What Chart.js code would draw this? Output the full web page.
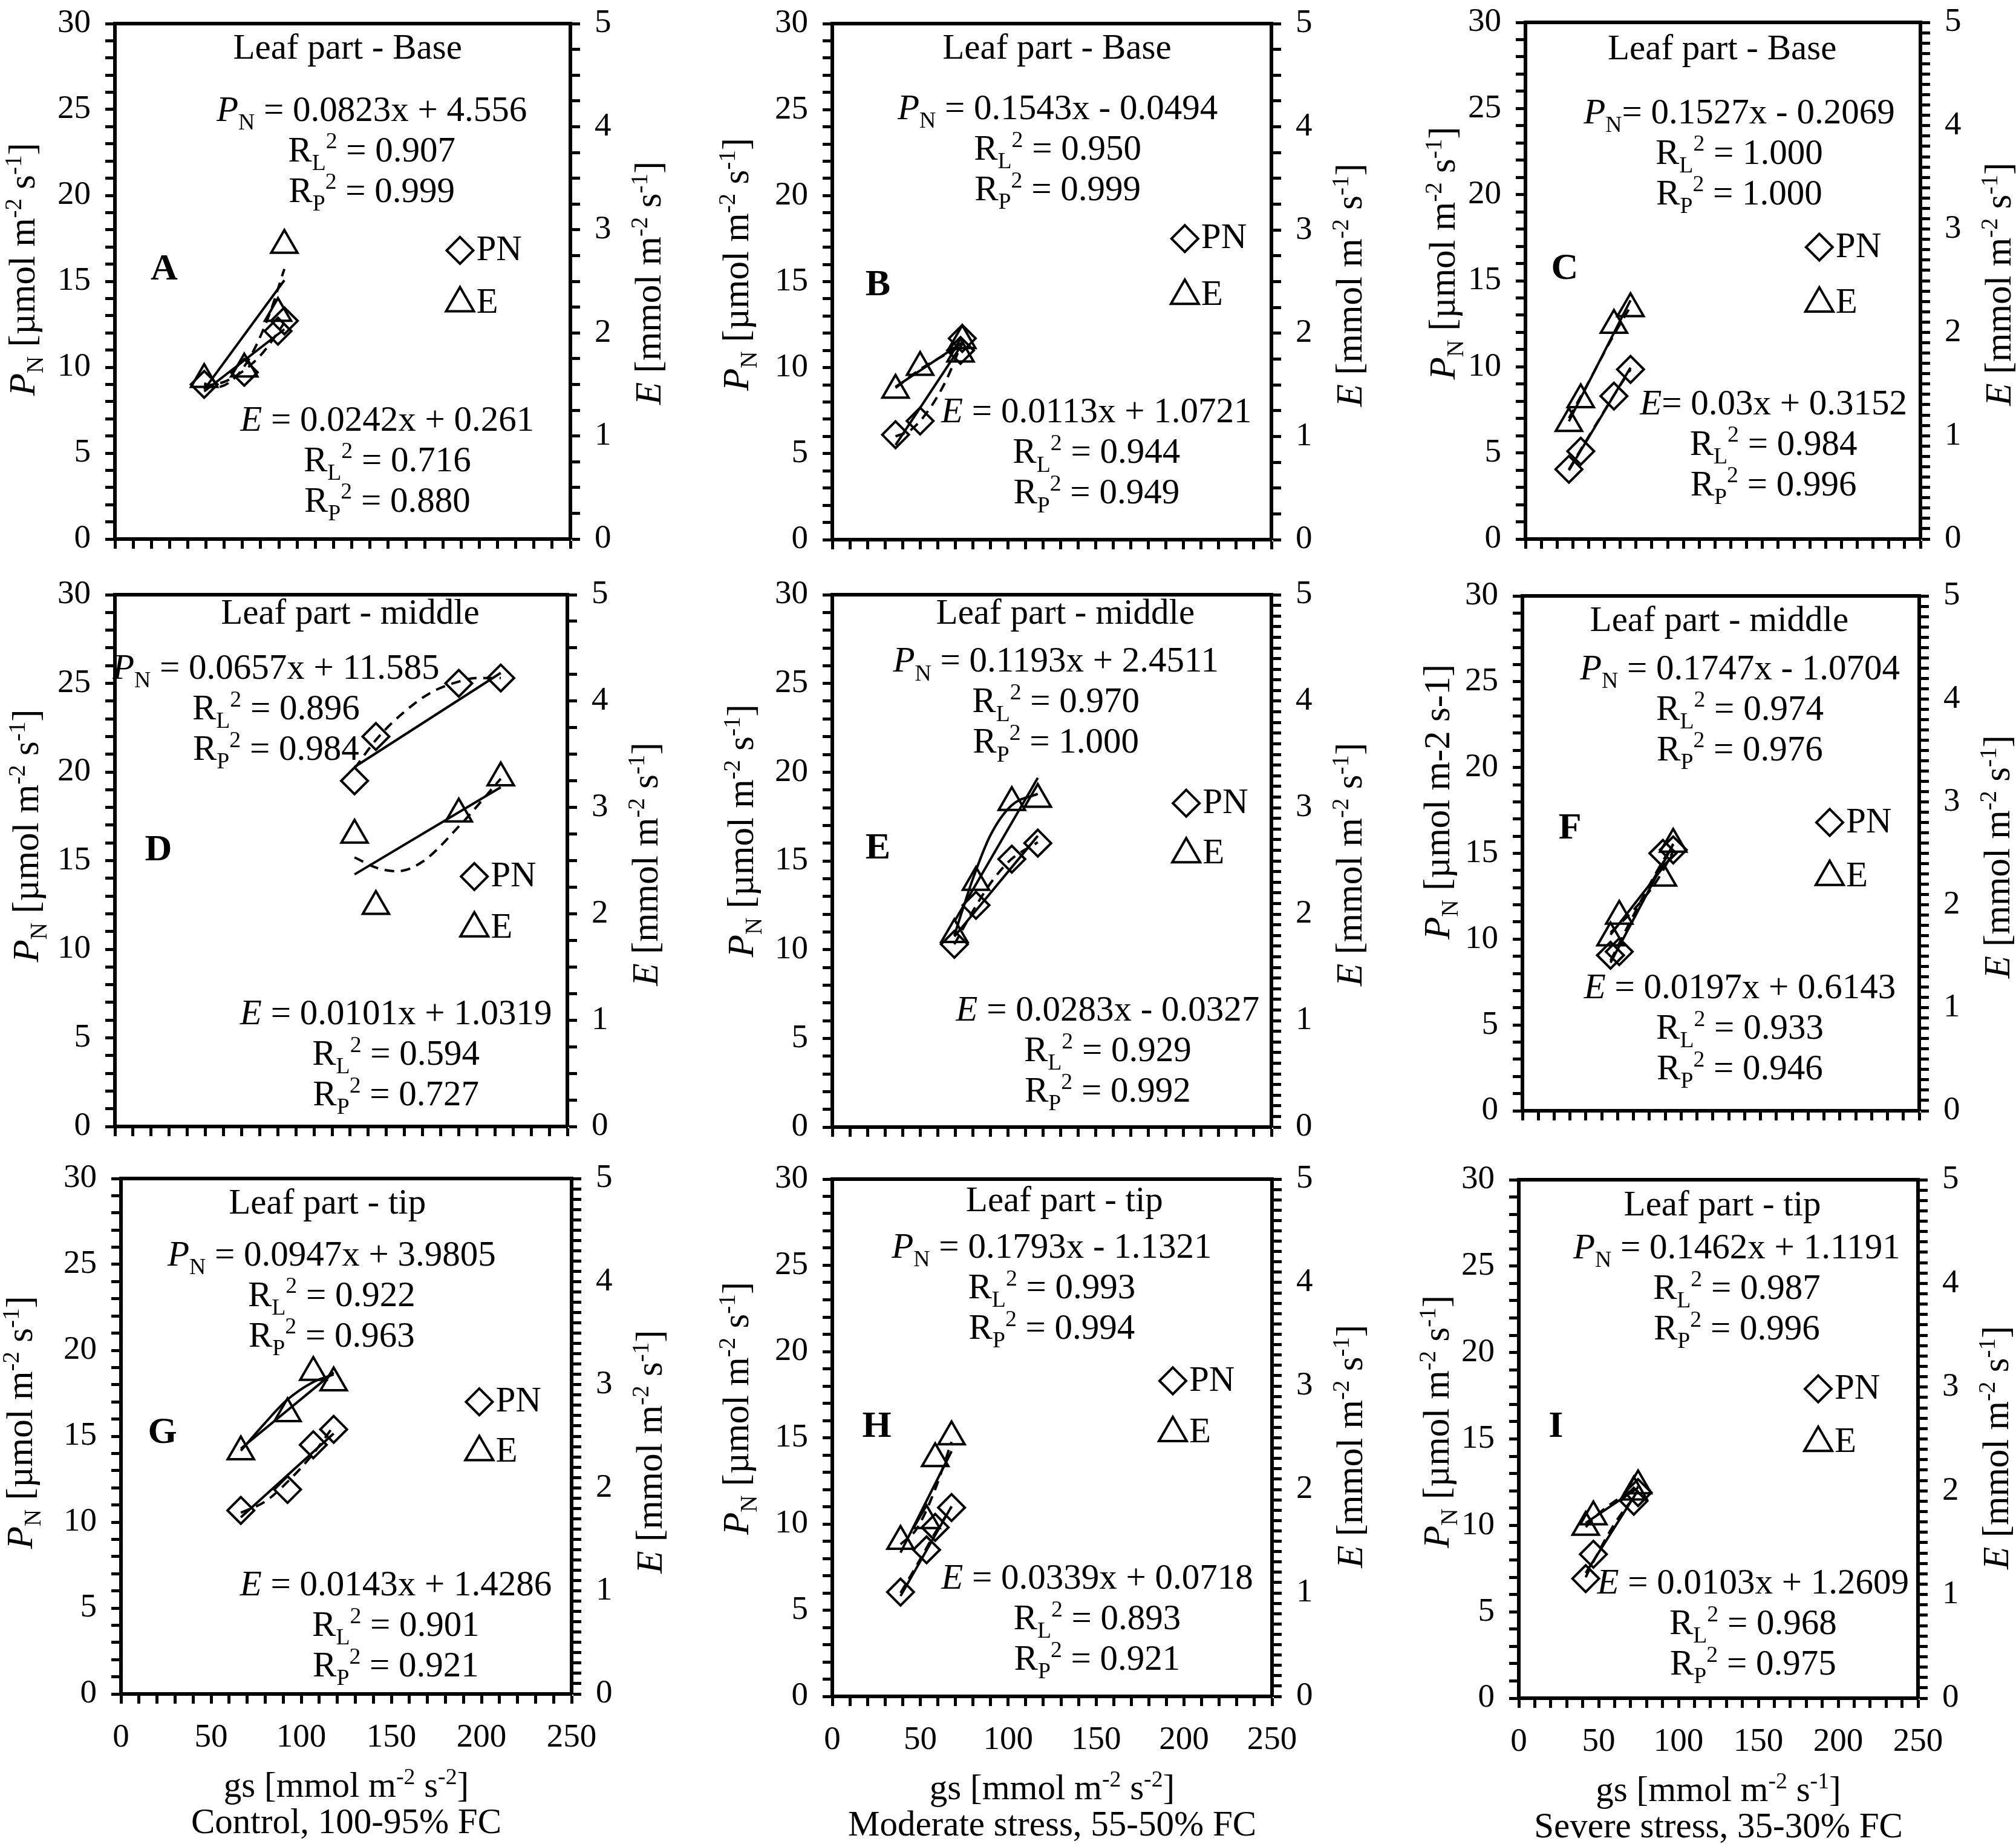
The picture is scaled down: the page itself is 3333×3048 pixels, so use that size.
<!DOCTYPE html>
<html lang="en">
<head>
<meta charset="UTF-8">
<title>PN and E vs gs</title>
<script src="https://cdn.jsdelivr.net/npm/chart.js"></script>
<style>
  html, body { margin: 0; padding: 0; background: #fff; }
  body { width: 3333px; height: 3048px; position: relative; overflow: hidden; }
  canvas { position: absolute; }
</style>
</head>
<body>
<script>
// values: gs [mmol m-2 s-1], PN [umol m-2 s-1], E [mmol m-2 s-1]
// fitted lines: [gs, value] pairs read along the drawn lines/curves
const gsA = [49, 71, 89.5, 93];
const pnA = [9.0, 9.7, 12.1, 12.7];
const eA = [1.55, 1.65, 2.19, 2.85];
const pnLineA = [[49, 8.59], [93, 12.21]];
const pnCurveA = [[49, 8.9], [60, 9.15], [70, 9.75], [80, 10.7], [89, 11.95], [93, 12.6]];
const eLineA = [[49, 1.45], [93, 2.51]];
const eCurveA = [[49, 1.51], [55, 1.47], [65, 1.55], [75, 1.79], [85, 2.19], [93, 2.62]];

const gsB = [36, 50, 73, 74];
const pnB = [6.1, 6.9, 11.0, 11.7];
const eB = [1.45, 1.67, 1.80, 1.93];
const pnLineB = [[36, 5.50], [74, 11.37]];
const pnCurveB = [[36, 6.0], [45, 6.4], [55, 7.55], [65, 9.3], [74, 11.5]];
const eLineB = [[36, 1.48], [74, 1.91]];
const eCurveB = [[36, 1.47], [50, 1.65], [62, 1.77], [74, 1.88]];

const gsC = [27.5, 35, 56, 66.5];
const pnC = [4.05, 5.1, 8.3, 9.85];
const eC = [1.12, 1.35, 2.07, 2.23];
const pnLineC = [[27.5, 3.99], [66.5, 9.95]];
const pnCurveC = [[27.5, 4.05], [40, 5.95], [55, 8.2], [66.5, 9.85]];
const eLineC = [[27.5, 1.14], [66.5, 2.31]];
const eCurveC = [[27.5, 1.17], [40, 1.52], [55, 1.95], [66.5, 2.25]];

const gsD = [132.4, 144.2, 190, 213.2];
const pnD = [19.5, 22.0, 25.0, 25.3];
const eD = [2.74, 2.07, 2.94, 3.28];
const pnLineD = [[132.4, 20.28], [213.2, 25.59]];
const pnCurveD = [[132.4, 20.2], [145, 21.9], [160, 23.4], [175, 24.5], [190, 25.1], [200, 25.3], [213.2, 25.3]];
const eLineD = [[132.4, 2.37], [213.2, 3.19]];
const eCurveD = [[132.4, 2.53], [145, 2.43], [156, 2.40], [170, 2.49], [190, 2.82], [213.2, 3.27]];

const gsE = [69.5, 81.8, 102.2, 117];
const pnE = [10.3, 12.5, 15.1, 16.0];
const eE = [1.81, 2.30, 3.05, 3.08];
const pnLineE = [[69.5, 10.74], [117, 16.41]];
const pnCurveE = [[69.5, 10.3], [82, 12.5], [92, 14.0], [102, 15.1], [117, 16.05]];
const eLineE = [[69.5, 1.93], [117, 3.28]];
const eCurveE = [[69.5, 1.80], [80, 2.33], [90, 2.74], [102, 3.02], [117, 3.13]];

const gsF = [55.5, 61, 88.5, 95];
const pnF = [9.06, 9.27, 15.0, 15.2];
const eF = [1.68, 1.89, 2.26, 2.59];
const pnLineF = [[55.5, 8.63], [95, 15.53]];
const pnCurveF = [[55.5, 8.75], [70, 11.4], [85, 14.0], [95, 15.55]];
const eLineF = [[55.5, 1.71], [95, 2.49]];
const eCurveF = [[55.5, 1.73], [70, 1.95], [85, 2.24], [95, 2.52]];

const gsG = [66.5, 92.4, 106.7, 118];
const pnG = [10.68, 11.9, 14.5, 15.4];
const eG = [2.35, 2.72, 3.12, 3.02];
const pnLineG = [[66.5, 10.28], [118, 15.16]];
const pnCurveG = [[66.5, 10.55], [80, 11.2], [92, 12.3], [106, 13.9], [118, 15.6]];
const eLineG = [[66.5, 2.38], [118, 3.12]];
const eCurveG = [[66.5, 2.36], [80, 2.63], [92, 2.85], [106, 3.02], [118, 3.1]];

const gsH = [38.8, 53.6, 58.5, 67.8];
const pnH = [6.05, 8.5, 9.8, 10.95];
const eH = [1.50, 1.70, 2.30, 2.51];
const pnLineH = [[38.8, 5.82], [67.8, 11.02]];
const pnCurveH = [[38.8, 6.0], [48, 7.6], [58, 9.4], [67.8, 11.0]];
const eLineH = [[38.8, 1.39], [67.8, 2.37]];
const eCurveH = [[38.8, 1.47], [48, 1.62], [58, 1.98], [67.8, 2.46]];

const gsI = [41.9, 46.7, 72, 74.7];
const pnI = [6.92, 8.33, 11.4, 11.9];
const eI = [1.65, 1.75, 1.99, 2.05];
const pnLineI = [[41.9, 7.24], [74.7, 12.04]];
const pnCurveI = [[41.9, 7.0], [46.7, 7.9], [60, 10.1], [74.7, 11.95]];
const eLineI = [[41.9, 1.69], [74.7, 2.03]];
const eCurveI = [[41.9, 1.65], [50, 1.78], [62, 1.92], [74.7, 2.04]];

// texts
const panelLetters = ['A', 'B', 'C', 'D', 'E', 'F', 'G', 'H', 'I'];
const leafParts = ['Leaf part - Base', 'Leaf part - middle', 'Leaf part - tip'];
const pnEq = ['0.0823x + 4.556', '0.1543x - 0.0494', '0.1527x - 0.2069', '0.0657x + 11.585', '0.1193x + 2.4511',
  '0.1747x - 1.0704', '0.0947x + 3.9805', '0.1793x - 1.1321', '0.1462x + 1.1191'];
const pnRL = ['0.907', '0.950', '1.000', '0.896', '0.970', '0.974', '0.922', '0.993', '0.987'];
const pnRP = ['0.999', '0.999', '1.000', '0.984', '1.000', '0.976', '0.963', '0.994', '0.996'];
const eEq = ['0.0242x + 0.261', '0.0113x + 1.0721', '0.03x + 0.3152', '0.0101x + 1.0319', '0.0283x - 0.0327',
  '0.0197x + 0.6143', '0.0143x + 1.4286', '0.0339x + 0.0718', '0.0103x + 1.2609'];
const eRL = ['0.716', '0.944', '0.984', '0.594', '0.929', '0.933', '0.901', '0.893', '0.968'];
const eRP = ['0.880', '0.949', '0.996', '0.727', '0.992', '0.946', '0.921', '0.921', '0.975'];
const gsUnitPower = ['-2', '-2', '-1'];
const treatments = ['Control, 100-95% FC', 'Moderate stress, 55-50% FC', 'Severe stress, 35-30% FC'];

const FONT = "'Liberation Serif', 'Times New Roman', serif";

// layout: plot rect [left, right, top, bottom] in page px, text anchors in data units
const layout = [
  {rect: [190, 943, 27, 891], eStep: 0.25, title: [127.7, 28.3], pn: [141, 24.7], e: [149.5, 6.67], letter: [27, 15.5], leg: [189.4, 16.8, 13.75], lOff: 154, lMid: 15.7, rMid: 14.9},
  {rect: [1376, 2102, 27, 892], eStep: 0.25, title: [127.9, 28.3], pn: [128.3, 24.8], e: [150.4, 7.16], letter: [26, 14.6], leg: [200.7, 17.5, 14.2], lOff: 160, lMid: 16, rMid: 14.8},
  {rect: [2522, 3175, 25, 891], eStep: 0.1, title: [124.5, 28.2], pn: [135.3, 24.5], e: [157, 7.6], letter: [24.8, 15.5], leg: [186, 16.95, 13.7], lOff: 138, lMid: 16.6, rMid: 14.8, tight: true},
  {rect: [190, 938, 971, 1862], eStep: 0.25, title: [130, 28.7], pn: [89, 25.6], e: [155.3, 6.1], letter: [24, 15.4], leg: [198.6, 14.1, 11.2], lOff: 148, lMid: 16.4, rMid: 14.8},
  {rect: [1376, 2102, 971, 1863], eStep: 0.1, title: [132.7, 28.7], pn: [127.3, 26.0], e: [156.8, 6.34], letter: [26, 15.5], leg: [201.5, 18.25, 15.4], lOff: 152, lMid: 16.7, rMid: 14.8, solidE: true},
  {rect: [2517, 3173, 973, 1836], eStep: 0.1, title: [124, 28.3], pn: [137, 25.5], e: [137, 6.9], letter: [30, 16.25], leg: [193.6, 16.8, 13.65], lOff: 142, lMid: 18.0, rMid: 14.8, plainUnits: true},
  {rect: [200, 945, 1936, 2800], eStep: 0.1, title: [114.5, 28.3], pn: [116.9, 25.3], e: [152.5, 6.1], letter: [23, 15.0], leg: [198.8, 17.0, 14.1], lOff: 168, lMid: 15.8, rMid: 14.1, solidE: true},
  {rect: [1376, 2103, 1937, 2804], eStep: 0.1, title: [132, 28.5], pn: [124.8, 25.8], e: [150.6, 6.6], letter: [25.3, 15.45], leg: [193.6, 18.3, 15.3], lOff: 160, lMid: 16.7, rMid: 14.5},
  {rect: [2511, 3171, 1938, 2807], eStep: 0.1, title: [127.5, 28.3], pn: [136.5, 25.8], e: [146.7, 6.4], letter: [23.2, 15.5], leg: [187.5, 17.9, 14.8], lOff: 137, lMid: 16.0, rMid: 14.5}
];

const series = [
  [gsA, pnA, eA, pnLineA, pnCurveA, eLineA, eCurveA],
  [gsB, pnB, eB, pnLineB, pnCurveB, eLineB, eCurveB],
  [gsC, pnC, eC, pnLineC, pnCurveC, eLineC, eCurveC],
  [gsD, pnD, eD, pnLineD, pnCurveD, eLineD, eCurveD],
  [gsE, pnE, eE, pnLineE, pnCurveE, eLineE, eCurveE],
  [gsF, pnF, eF, pnLineF, pnCurveF, eLineF, eCurveF],
  [gsG, pnG, eG, pnLineG, pnCurveG, eLineG, eCurveG],
  [gsH, pnH, eH, pnLineH, pnCurveH, eLineH, eCurveH],
  [gsI, pnI, eI, pnLineI, pnCurveI, eLineI, eCurveI]
];

// rich text: runs of [text, kind], kind '' | 'i' | 'b' | 'sub' | 'sup'
function drawRuns(ctx, runs, x, y, size, align) {
  const fontFor = k => {
    const s = (k === 'sub' || k === 'sup') ? size * 0.64 : size;
    return (k === 'i' ? 'italic ' : k === 'b' ? 'bold ' : '') + s + 'px ' + FONT;
  };
  let w = 0;
  runs.forEach(([t, k]) => { ctx.font = fontFor(k); w += ctx.measureText(t).width; });
  let cx = align === 'left' ? x : x - w / 2;
  ctx.textAlign = 'left';
  ctx.textBaseline = 'alphabetic';
  ctx.fillStyle = '#000';
  runs.forEach(([t, k]) => {
    ctx.font = fontFor(k);
    const dy = k === 'sub' ? size * 0.24 : k === 'sup' ? -size * 0.36 : 0;
    ctx.fillText(t, cx, y + size * 0.34 + dy);
    cx += ctx.measureText(t).width;
  });
}

function drawPanelText(chart, i) {
  const p = layout[i];
  const ctx = chart.ctx;
  const a = chart.chartArea;
  const X = v => chart.scales.x.getPixelForValue(v);
  const Y = v => chart.scales.y.getPixelForValue(v) - 10;
  const size = 59, lh = 67;
  ctx.save();
  // top frame line
  ctx.strokeStyle = '#000';
  ctx.lineWidth = 6;
  ctx.beginPath();
  ctx.moveTo(a.left - 3, a.top);
  ctx.lineTo(a.right + 3, a.top);
  ctx.stroke();

  drawRuns(ctx, [[leafParts[Math.floor(i / 3)], '']], X(p.title[0]), Y(p.title[1]), size);

  const eqSep = p.tight ? '= ' : ' = ';
  let y0 = Y(p.pn[1]);
  drawRuns(ctx, [['P', 'i'], ['N', 'sub'], [eqSep + pnEq[i], '']], X(p.pn[0]), y0, size);
  drawRuns(ctx, [['R', ''], ['L', 'sub'], ['2', 'sup'], [' = ' + pnRL[i], '']], X(p.pn[0]), y0 + lh, size);
  drawRuns(ctx, [['R', ''], ['P', 'sub'], ['2', 'sup'], [' = ' + pnRP[i], '']], X(p.pn[0]), y0 + 2 * lh, size);

  y0 = Y(p.e[1]);
  drawRuns(ctx, [['E', 'i'], [eqSep + eEq[i], '']], X(p.e[0]), y0, size);
  drawRuns(ctx, [['R', ''], ['L', 'sub'], ['2', 'sup'], [' = ' + eRL[i], '']], X(p.e[0]), y0 + lh, size);
  drawRuns(ctx, [['R', ''], ['P', 'sub'], ['2', 'sup'], [' = ' + eRP[i], '']], X(p.e[0]), y0 + 2 * lh, size);

  drawRuns(ctx, [[panelLetters[i], 'b']], X(p.letter[0]), Y(p.letter[1]), 62);

  // legend markers
  const lx = X(p.leg[0]);
  const ly1 = Y(p.leg[1]) + 10, ly2 = Y(p.leg[2]) + 10;
  ctx.lineWidth = 4;
  ctx.beginPath();
  ctx.moveTo(lx, ly1 - 22); ctx.lineTo(lx + 22, ly1); ctx.lineTo(lx, ly1 + 22); ctx.lineTo(lx - 22, ly1); ctx.closePath();
  ctx.stroke();
  ctx.beginPath();
  ctx.moveTo(lx, ly2 - 26); ctx.lineTo(lx + 23, ly2 + 14); ctx.lineTo(lx - 23, ly2 + 14); ctx.closePath();
  ctx.stroke();
  drawRuns(ctx, [['PN', '']], lx + 27, ly1 - 4, size, 'left');
  drawRuns(ctx, [['E', '']], lx + 27, ly2 - 4, size, 'left');

  // axis titles
  const leftRuns = p.plainUnits
    ? [['P', 'i'], ['N', 'sub'], [' [µmol m-2 s-1]', '']]
    : [['P', 'i'], ['N', 'sub'], [' [µmol m', ''], ['-2', 'sup'], [' s', ''], ['-1', 'sup'], [']', '']];
  ctx.save();
  ctx.translate(a.left - p.lOff, chart.scales.y.getPixelForValue(p.lMid));
  ctx.rotate(-Math.PI / 2);
  drawRuns(ctx, leftRuns, 0, 0, 61);
  ctx.restore();
  ctx.save();
  ctx.translate(a.right + 128, chart.scales.y.getPixelForValue(p.rMid));
  ctx.rotate(-Math.PI / 2);
  drawRuns(ctx, [['E', 'i'], [' [mmol m', ''], ['-2', 'sup'], [' s', ''], ['-1', 'sup'], [']', '']], 0, 0, 61);
  ctx.restore();

  if (i >= 6) {
    const c = i - 6;
    const midX = (a.left + a.right) / 2;
    drawRuns(ctx, [['gs [mmol m', ''], ['-2', 'sup'], [' s', ''], [gsUnitPower[c], 'sup'], [']', '']], midX, a.bottom + 150, 59);
    drawRuns(ctx, [[treatments[c], '']], midX, a.bottom + 210, 59);
  }
  ctx.restore();
}

function axis(pos, min, max, step, major, showLabels, fixed) {
  return {
    type: 'linear', position: pos, min: min, max: max,
    ticks: {
      stepSize: step, autoSkip: false, maxRotation: 0, padding: 24,
      color: '#000', font: {size: 55, family: FONT},
      callback: v => (showLabels && Math.abs(v / major - Math.round(v / major)) < 1e-6) ? String(Math.round(v * 100) / 100) : ''
    },
    grid: {display: true, drawOnChartArea: false, drawTicks: true, tickLength: 16, tickWidth: 5, tickColor: '#000', color: '#000'},
    border: {display: true, color: '#000', width: 6},
    afterFit: s => { if (pos === 'bottom') s.height = fixed; else s.width = fixed; }
  };
}

const toXY = (xs, ys) => xs.map((x, k) => ({x: x, y: ys[k]}));
const pairs = arr => arr.map(([x, y]) => ({x: x, y: y}));

layout.forEach((p, i) => {
  const [gs, pn, e, pnLine, pnCurve, eLine, eCurve] = series[i];
  const [L, R, T, B] = p.rect;
  const padSide = 230, padTop = 45;
  const padBottom = i >= 6 ? 250 : 60;
  const cv = document.createElement('canvas');
  cv.width = R - L + 2 * padSide;
  cv.height = B - T + padTop + padBottom;
  cv.style.left = (L - padSide) + 'px';
  cv.style.top = (T - padTop) + 'px';
  document.body.appendChild(cv);

  const lineStyle = {showLine: true, pointRadius: 0, borderColor: '#000', borderWidth: 4, fill: false};
  new Chart(cv, {
    type: 'scatter',
    data: {
      datasets: [
        {label: 'PN', data: toXY(gs, pn), yAxisID: 'y', pointStyle: 'rectRot', pointRadius: 22,
          borderColor: '#000', backgroundColor: 'rgba(0,0,0,0)', borderWidth: 4, pointBorderWidth: 4},
        {label: 'E', data: toXY(gs, e), yAxisID: 'y1', pointStyle: 'triangle', pointRadius: 25,
          borderColor: '#000', backgroundColor: 'rgba(0,0,0,0)', borderWidth: 4, pointBorderWidth: 4},
        Object.assign({label: 'PN linear', data: pairs(pnLine), yAxisID: 'y'}, lineStyle),
        Object.assign({label: 'PN poly', data: pairs(pnCurve), yAxisID: 'y', borderDash: [16, 11], cubicInterpolationMode: 'monotone'}, lineStyle),
        Object.assign({label: 'E linear', data: pairs(eLine), yAxisID: 'y1'}, lineStyle),
        Object.assign({label: 'E poly', data: pairs(eCurve), yAxisID: 'y1', borderDash: p.solidE ? [] : [16, 11], cubicInterpolationMode: 'monotone'}, lineStyle)
      ]
    },
    options: {
      responsive: false,
      animation: false,
      devicePixelRatio: 1,
      layout: {padding: {top: padTop, left: 0, right: 0, bottom: 0}},
      plugins: {legend: {display: false}, tooltip: {enabled: false}},
      scales: {
        x: axis('bottom', 0, 250, 10, 50, i >= 6, padBottom),
        y: axis('left', 0, 30, 1, 5, true, padSide),
        y1: axis('right', 0, 5, p.eStep, 1, true, padSide)
      }
    },
    plugins: [{id: 'panelText' + i, afterDraw: c => drawPanelText(c, i)}]
  });
});
</script>
</body>
</html>
